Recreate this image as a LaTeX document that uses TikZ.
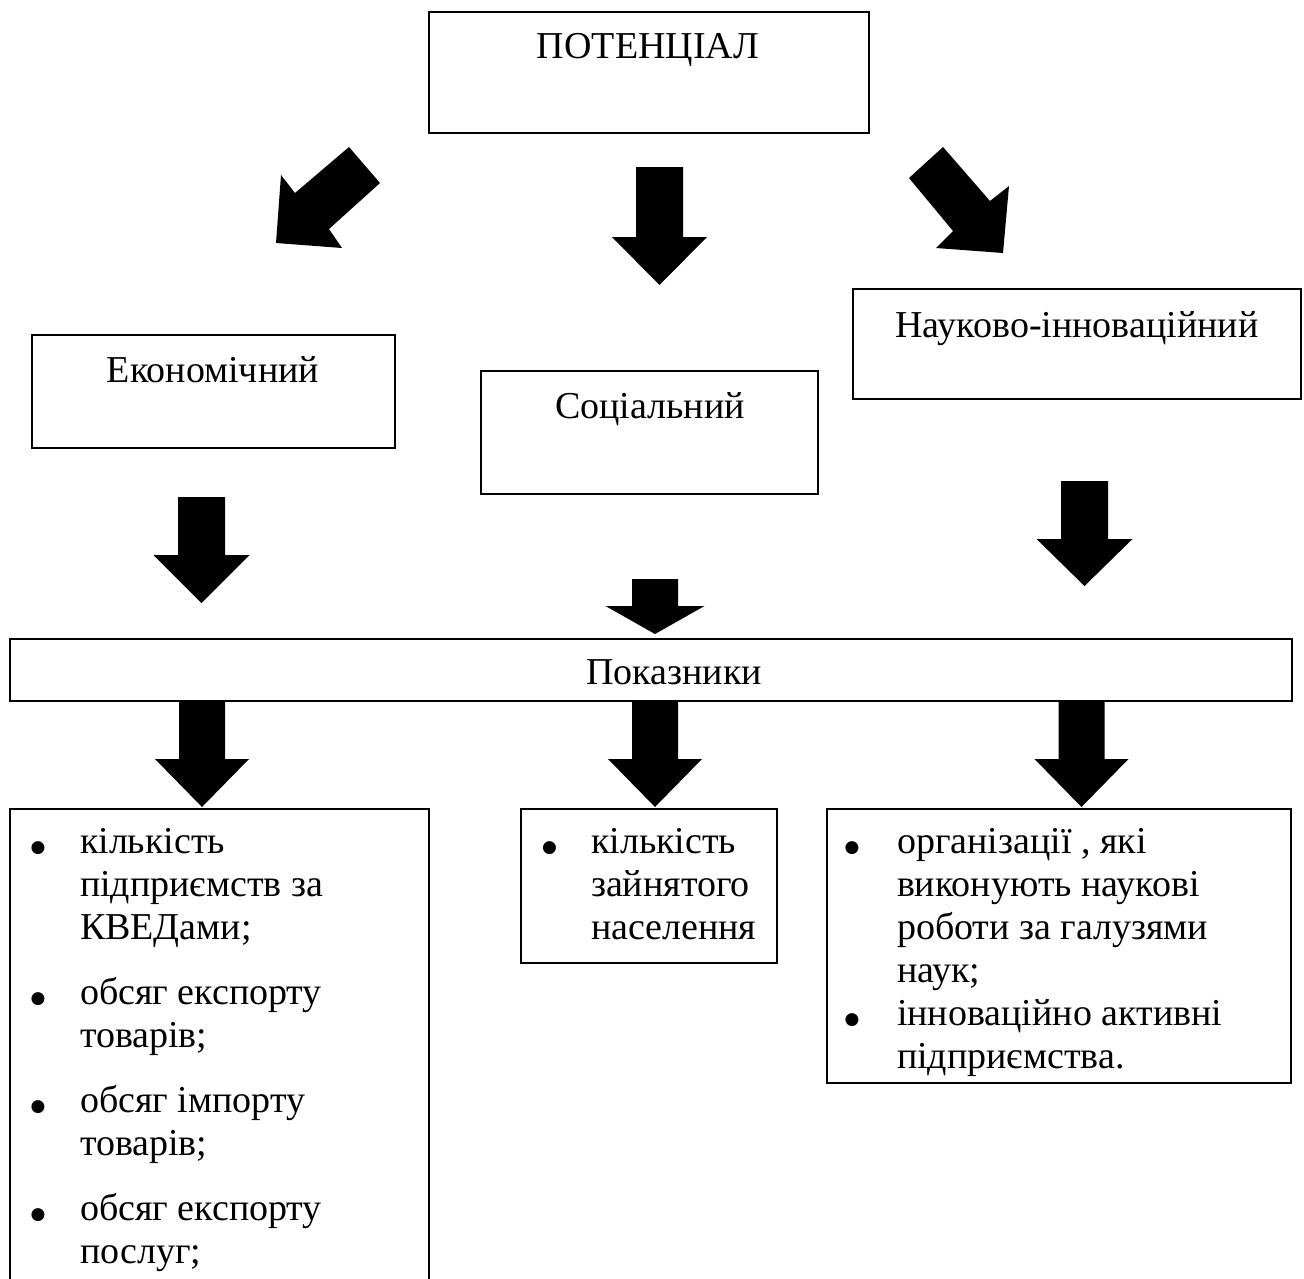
\documentclass[tikz,border=0pt]{standalone}
\usepackage{fontspec}
\setmainfont{Liberation Serif}
\newfontfamily\symfont{DejaVu Sans}

% gap between a bullet and its text
\newlength\gapw
\newcommand\bulletmark{\makebox[0pt]{\symfont\fontsize{17}{17}\selectfont\raisebox{1pt}{●}}\hspace{\gapw}}
\newcommand\indentmark{\hspace{\gapw}}

% solid block arrow pointing down:
% {centre x}{shaft top}{head base}{tip}{shaft half width}{head half width}
\newcommand\dnarrow[6]{%
  \fill[blockfill] ({#1-#5},#2) -- ({#1+#5},#2) -- ({#1+#5},#3) -- ({#1+#6},#3)
    -- (#1,#4) -- ({#1-#6},#3) -- ({#1-#5},#3) -- cycle;}

\begin{document}
\begin{tikzpicture}[x=1pt,y=-1pt,
  every node/.style={font=\fontsize{38}{43}\selectfont, inner sep=0pt, outer sep=0pt},
  box/.style={draw=black, line width=2.6pt, fill=white},
  title/.style={anchor=base},
  listtext/.style={anchor=base west, align=left},
  blockfill/.style={fill=black},
  frame/.style={draw=black, line width=2.6pt}]

\useasboundingbox (0,0) rectangle (1304,1278);

% ---- boxes ----
\node[box, minimum width=440, minimum height=121] (pot) at (649,72.5) {};
\node[box, minimum width=363, minimum height=113] (eco) at (213.5,391.5) {};
\node[box, minimum width=337, minimum height=123] (soc) at (649.5,432.5) {};
\node[box, minimum width=448, minimum height=110] (sci) at (1077,344) {};
\node[box, minimum width=1282, minimum height=62] (ind) at (651,670) {};
\node[box, minimum width=256, minimum height=154] (socl) at (649,886) {};
\node[box, minimum width=464, minimum height=274] (scil) at (1059,946) {};

% economic list frame runs past the lower edge
\coordinate (ecoA) at (10,1300);
\coordinate (ecoB) at (10,809);
\coordinate (ecoC) at (429,809);
\coordinate (ecoD) at (429,1300);
\draw[frame] (ecoA) -- (ecoB) -- (ecoC) -- (ecoD);

% ---- titles ----
\node[title] (potT) at (648,58) {ПОТЕНЦІАЛ};
\node[title] (ecoT) at (213,382) {Економічний};
\node[title] (socT) at (650,418) {Соціальний};
\node[title] (sciT) at (1077,337) {Науково-інноваційний};
\node[title] (indT) at (674,684) {Показники};

% ---- lists ----
\node[listtext] (ecoList) at (38,853) {\setlength\gapw{42pt}%
  \begin{tabular}[t]{@{}l@{}}
  \bulletmark кількість\\
  \indentmark підприємств за\\
  \indentmark КВЕДами;\\[22pt]
  \bulletmark обсяг експорту\\
  \indentmark товарів;\\[22pt]
  \bulletmark обсяг імпорту\\
  \indentmark товарів;\\[22pt]
  \bulletmark обсяг експорту\\
  \indentmark послуг;
  \end{tabular}};

\node[listtext] (socList) at (549.5,853) {\setlength\gapw{41.5pt}%
  \begin{tabular}[t]{@{}l@{}}
  \bulletmark кількість\\
  \indentmark зайнятого\\
  \indentmark населення
  \end{tabular}};

\node[listtext] (sciList) at (852,853) {\setlength\gapw{45pt}%
  \begin{tabular}[t]{@{}l@{}}
  \bulletmark організації , які\\
  \indentmark виконують наукові\\
  \indentmark роботи за галузями\\
  \indentmark наук;\\
  \bulletmark інноваційно активні\\
  \indentmark підприємства.
  \end{tabular}};

% ---- arrows from the top box ----
\fill[blockfill] (349,147) -- (380,183) -- (329,229) -- (342,248) -- (276,243)
  -- (281,175) -- (295,193) -- cycle;
\dnarrow{659.5}{167}{237}{285}{23.5}{47.5}
\fill[blockfill] (943,147) -- (909,178) -- (953,231) -- (936,248) -- (1003,253)
  -- (1009,186) -- (990,201) -- cycle;

% ---- arrows into the indicator bar ----
\dnarrow{201.5}{497}{555}{603}{23.5}{48}
\dnarrow{655}{579}{606}{634}{23}{49.5}
\dnarrow{1084.5}{481}{539}{586}{23.5}{48}

% ---- arrows out of the indicator bar ----
\dnarrow{202}{701}{759}{807}{23}{47}
\dnarrow{655}{701}{759}{807}{23}{47}
\dnarrow{1081.5}{701}{759}{807}{23}{47}

\end{tikzpicture}
\end{document}
